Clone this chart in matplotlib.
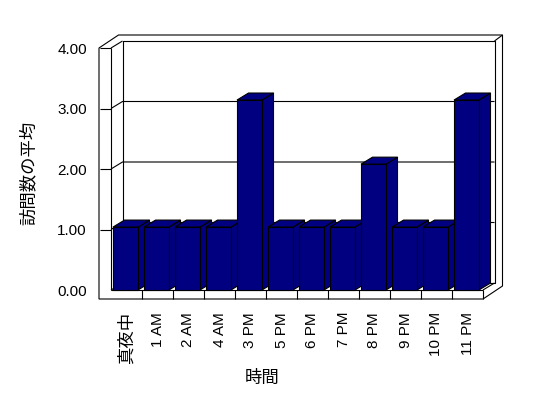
import matplotlib.pyplot as plt
from matplotlib.patches import Polygon

plt.rcParams['font.family'] = ['Liberation Sans', 'Noto Sans CJK JP']

hours = ['真夜中', '1 AM', '2 AM', '4 AM', '3 PM', '5 PM', '6 PM', '7 PM',
         '8 PM', '9 PM', '10 PM', '11 PM']
visits = [1.04, 1.04, 1.04, 1.04, 3.14, 1.04, 1.04, 1.04, 2.08, 1.04, 1.04, 3.14]
yticks = [0, 1, 2, 3, 4]

W, H = 548, 398
fig = plt.figure(figsize=(W / 100, H / 100), dpi=100)
# front plane of the 3d box, in pixels: x 111..483, y 48..290
ax = fig.add_axes([111 / W, (H - 290) / H, 372 / W, 242 / H])
ax.set_xlim(-0.5, 11.5)
ax.set_ylim(0, 4)
for s in ax.spines.values():
    s.set_visible(False)

PXX, PXY = 31.0, 60.5          # pixels per category / per unit
DX, DY = 11.5 / PXX, 7 / PXY   # depth of the box
TX, TY = 8 / PXX, 6 / PXY      # thickness of back wall
xl0 = -0.5 - 12 / PXX          # outer left of the left wall
ft = 9 / PXY                   # floor thickness
lw = 0.8

def poly(pts, fc='white', z=1):
    ax.add_patch(Polygon(pts, closed=True, facecolor=fc, edgecolor='black',
                         lw=lw, clip_on=False, zorder=z, joinstyle='miter'))

def line(xs, ys, z=2):
    ax.plot(xs, ys, color='black', lw=lw, clip_on=False, zorder=z,
            solid_capstyle='butt')

# outer shell
poly([(xl0, -ft), (xl0, 4), (xl0 + DX + TX, 4 + DY + TY),
      (11.5 + DX + TX, 4 + DY + TY), (11.5 + DX + TX, -ft + DY + TY),
      (11.5, -ft)], z=1)
# inner faces
line([-0.5, -0.5], [0, 4])
line([-0.5, -0.5 + DX], [4, 4 + DY])
line([-0.5, -0.5 + DX], [0, DY])
line([-0.5 + DX, 11.5 + DX, 11.5 + DX, -0.5 + DX, -0.5 + DX],
     [DY, DY, 4 + DY, 4 + DY, DY])
line([-0.5, 11.5], [0, 0])
line([11.5, 11.5 + DX], [0, DY])
line([11.5, 11.5], [-ft, 0])
line([11.5 + DX, 11.5 + DX + TX], [4 + DY, 4 + DY + TY])
# gridlines on the left and back walls
for v in yticks[1:4]:
    line([-0.5, -0.5 + DX, 11.5 + DX], [v, v + DY, v + DY])

# bars
bw = 25 / PXX
xs = [i - 1 / PXX for i in range(len(hours))]
navy = '#000080'
for i, (x, v) in enumerate(zip(xs, visits)):
    z = 10 + i
    l, r = x - bw / 2, x + bw / 2
    poly([(r, 0), (r, v), (r + DX, v + DY), (r + DX, DY)], fc=navy, z=z)
    poly([(l, v), (r, v), (r + DX, v + DY), (l + DX, v + DY)], fc=navy, z=z)
ax.bar(xs, visits, width=bw, color=navy, edgecolor='black', linewidth=lw,
       zorder=30)
for p, i in zip(ax.patches[-len(visits):], range(len(visits))):
    p.set_zorder(10.5 + i)
    p.set_clip_on(False)

# y axis ticks
ax.set_yticks(yticks, [f'{v:.2f}' for v in yticks], fontsize=11)
ax.tick_params(axis='y', direction='out', length=11 * 0.72, width=lw,
               pad=9.4, colors='black')
ax.yaxis.get_major_ticks()[0].tick1line.set_visible(False)

# x axis ticks
ax.set_xticks(range(len(hours)), hours, rotation=90, fontsize=11)
ax.tick_params(axis='x', which='major', length=0, pad=15.8)
ax.set_xticks([i + 0.5 for i in range(len(hours) - 1)], minor=True)
ax.tick_params(axis='x', which='minor', direction='out', length=9 * 0.72,
               width=lw, colors='black')
ax.get_xticklabels()[0].set_fontsize(12.5)

fig.text(262 / W, 1 - 378 / H, '時間', fontsize=12.5, ha='center', va='center')
fig.text(28 / W, 1 - 173 / H, '訪問数の平均', fontsize=12.5, rotation=90,
         ha='center', va='center')

fig.savefig('out.png', dpi=100, facecolor='white')
